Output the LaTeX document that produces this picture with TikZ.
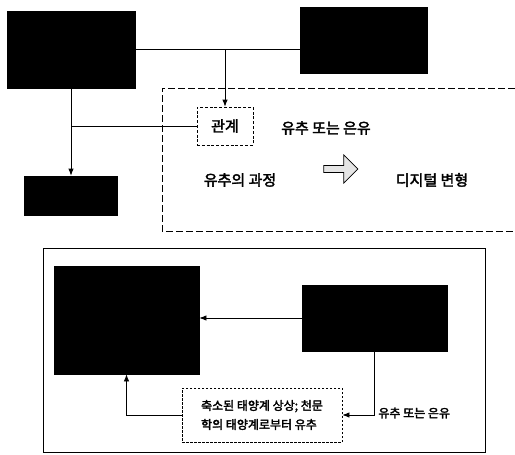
\documentclass[tikz,border=0pt]{standalone}
\usepackage{fontspec}
\newfontfamily\kr[FakeBold=2.5]{Noto Sans CJK KR}
\usetikzlibrary{arrows.meta}
\usetikzlibrary{shapes.arrows}

\begin{document}
\begin{tikzpicture}[
                x=1pt, y=-1pt,
                blackbox/.style={draw, fill=black, inner sep=0pt},
                dashbox/.style={draw, dash pattern=on 3pt off 1.8pt, inner sep=0pt},
                label/.style={font=\kr\fontsize{15}{18}\selectfont, inner sep=0pt},
                small/.style={font=\kr\fontsize{12}{19}\selectfont, inner sep=0pt},
                arrow/.style={-{Latex[length=7pt, width=5.5pt]}},
                line width=0.8pt
            ]
            \useasboundingbox (0, 0) rectangle (515, 455);
            % top part
            \node[blackbox, minimum width=128, minimum height=77] (srcA) at (71, 49.5) {};
            \node[blackbox, minimum width=127, minimum height=66] (srcB) at (363.5, 40) {};
            \node[blackbox, minimum width=93, minimum height=39] (result) at (71, 195.5) {};
            \node[dashbox, minimum width=56, minimum height=38, label] (relation) at (225, 126) {관계};
            \node[label] (analogy) at (326, 128) {유추 또는 은유};
            \node[label] (process) at (240, 180) {유추의 과정};
            \node[draw, fill=gray!20, single arrow, single arrow head extend=4pt,
                  minimum height=34, minimum width=28, inner sep=1pt, line width=0.7pt] (shift) at (339, 169) {};
            \node[label] (digital) at (432, 180) {디지털 변형};
            \coordinate (meet) at (relation.north |- srcA.east);
            \draw (srcA.east) -- (srcA.east -| srcB.west);
            \draw[arrow] (meet) -- (relation.north);
            \draw[arrow] (srcA.south) -- (result.north);
            \draw (srcA.south |- relation.west) -- (relation.west);
            \draw[dash pattern=on 7pt off 3pt] (515, 88) -- (162, 88) -- (162, 231) -- (515, 231);
            % bottom part
            \draw (43, 248) rectangle (485, 452);
            \node[blackbox, minimum width=145, minimum height=108] (model) at (126.5, 320) {};
            \node[blackbox, minimum width=145, minimum height=66] (solar) at (374.5, 318) {};
            \node[dashbox, dash pattern=on 2.5pt off 1.5pt, minimum width=160, minimum height=54,
                  small, align=left] (imagine) at (262, 415) {축소된 태양계 상상; 천문\\학의 태양계로부터 유추};
            \node[small, anchor=west] (analogy2) at (378, 413) {유추 또는 은유};
            \draw[arrow] (solar.west) -- (solar.west -| model.east);
            \draw[arrow] (solar.south) |- (solar.south |- imagine.east) -- (imagine.east);
            \draw[arrow] (imagine.west) -| (model.south);
        \end{tikzpicture}
\end{document}
